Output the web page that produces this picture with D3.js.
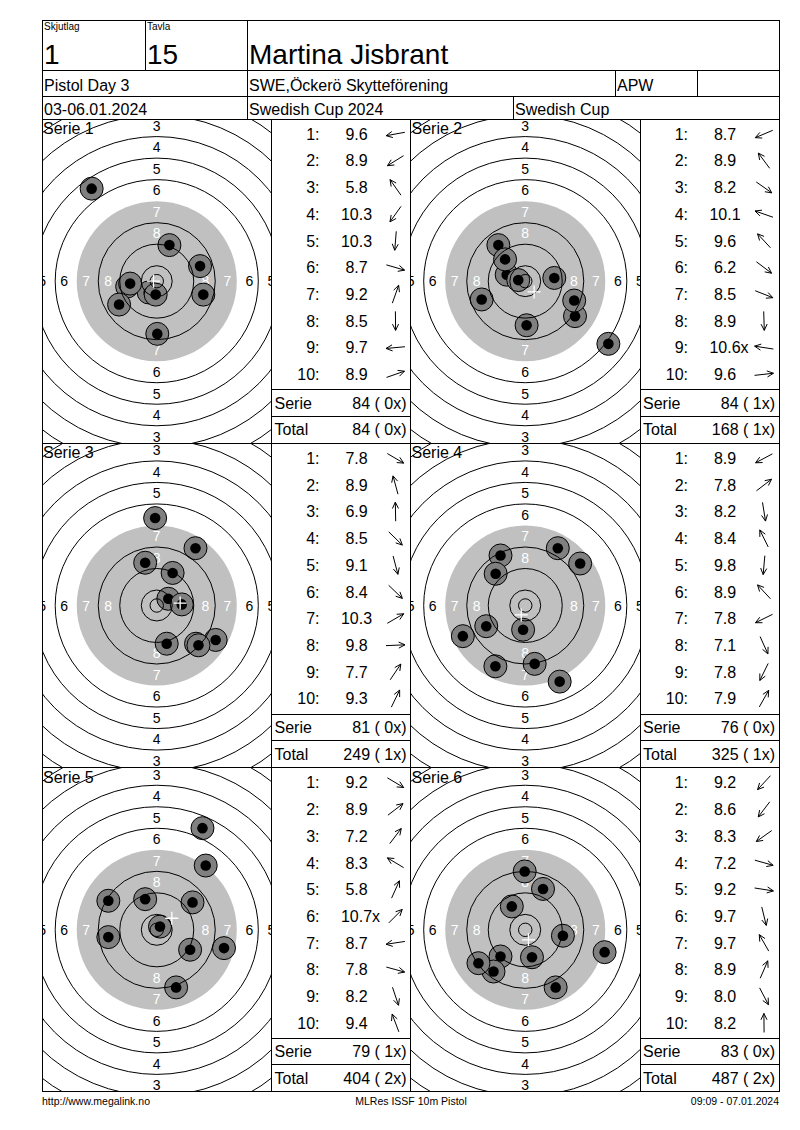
<!DOCTYPE html>
<html><head><meta charset="utf-8">
<script src="https://cdn.jsdelivr.net/npm/d3@7"></script>
<style>
body{margin:0;background:#fff}
svg text{font-family:Arial,"Liberation Sans",sans-serif;white-space:pre}
</style>
</head><body>
<svg id="c" width="800" height="1130"></svg>
<script>
// ---------------- DATA ----------------
const headerLabels = ["Skjutlag", "Tavla"];
const headerValues = ["1", "15"];
const shooterName = "Martina Jisbrant";
const row2Texts = ["Pistol Day 3", "SWE,Öckerö Skytteförening", "APW", ""];
const row3Texts = ["03-06.01.2024", "Swedish Cup 2024", "Swedish Cup"];
const footerTexts = ["http://www.megalink.no", "MLRes ISSF 10m Pistol", "09:09 - 07.01.2024"];
const seriesNames = ["Serie 1", "Serie 2", "Serie 3", "Serie 4", "Serie 5", "Serie 6"];

// decimal scores per shot
const s1Score = [9.6, 8.9, 5.8, 10.3, 10.3, 8.7, 9.2, 8.5, 9.7, 8.9];
const s2Score = [8.7, 8.9, 8.2, 10.1, 9.6, 6.2, 8.5, 8.9, 10.6, 9.6];
const s3Score = [7.8, 8.9, 6.9, 8.5, 9.1, 8.4, 10.3, 9.8, 7.7, 9.3];
const s4Score = [8.9, 7.8, 8.2, 8.4, 9.8, 8.9, 7.8, 7.1, 7.8, 7.9];
const s5Score = [9.2, 8.9, 7.2, 8.3, 5.8, 10.7, 8.7, 7.8, 8.2, 9.4];
const s6Score = [9.2, 8.6, 8.3, 7.2, 9.2, 9.7, 9.7, 8.9, 8.0, 8.2];
// inner-ten ("x") shots, 1-based shot numbers
const innerTenShots = [[], [9], [], [], [6], []];

// shot positions in mm from target centre (x right, y down)
const s1X = [-11.0, -14.0, -24.2, -3.0, -0.4, 17.3, 4.7, 0.2, -9.9, 16.1];
const s1Y = [2.0, 8.7, -34.4, 4.2, 5.0, 5.0, -13.4, 19.6, 0.9, -5.6];
const s2X = [-16.2, -10.0, 18.5, -6.9, -7.5, 30.9, 18.2, 0.5, -2.6, 10.8];
const s2Y = [6.8, -13.4, 13.0, -2.4, -8.1, 23.3, 7.2, 16.4, -0.4, -1.2];
const s3X = [21.9, -4.3, -0.6, 14.6, 3.7, 15.5, 4.3, 9.3, 14.4, 5.9];
const s3Y = [12.8, -15.9, -32.5, 14.2, 14.2, 14.8, -2.5, -0.4, -21.3, -12.1];
const s4X = [-14.5, 20.4, 3.5, -9.2, -0.8, -11.0, -23.2, 12.8, -11.1, 12.1];
const s4Y = [7.7, -15.6, 21.7, -18.6, 9.0, -11.8, 11.4, 28.3, 22.6, -21.3];
const s5X = [12.4, 13.3, 18.2, -18.0, 17.0, 1.2, -18.0, 25.0, 7.2, -4.3];
const s5Y = [7.4, -10.2, -23.9, -10.8, -37.8, -1.2, 2.7, 6.8, 21.4, -11.4];
const s6X = [-9.2, -11.8, -17.4, 29.5, 14.0, 2.5, -5.0, 6.6, 11.3, -0.2];
const s6Y = [9.9, 15.5, 12.4, 8.3, 2.2, 10.2, -8.7, -15.2, 21.4, -21.7];

// mean point of impact ("+" marker) in mm
const mpiX = [-1.2, 3.3, 8.7, -1.5, 5.6, 1.2];
const mpiY = [0.0, 4.0, -0.9, 3.5, -4.3, 3.7];

// ISSF 10m air pistol target: ring radii (mm) for rings 1..10
const ringValues = [1, 2, 3, 4, 5, 6, 7, 8, 9, 10];
const ringRadiiMm = [77.75, 69.75, 61.75, 53.75, 45.75, 37.75, 29.75, 21.75, 13.75, 5.75];
const innerTenMm = 2.5;
const blackRingValue = 7;
const labelRings = [1, 2, 3, 4, 5, 6, 7, 8];

const scores = [s1Score, s2Score, s3Score, s4Score, s5Score, s6Score];
const xs = [s1X, s2X, s3X, s4X, s5X, s6X];
const ys = [s1Y, s2Y, s3Y, s4Y, s5Y, s6Y];

// ---------------- LAYOUT ----------------
const svg = d3.select("#c");
const L = 42, R = 779, T = 20;
const H1 = 70, H2 = 96, H3 = 119;
const panelH = 324.33, targetW = 229.5, colW = 139;
const B = H3 + panelH * 3;
const PXMM = 2.69;

const lines = svg.append("g").attr("stroke", "#000").attr("stroke-width", 1).attr("shape-rendering", "crispEdges");
function hline(x1, x2, y) { lines.append("line").attr("x1", x1).attr("x2", x2).attr("y1", y).attr("y2", y); }
function vline(x, y1, y2) { lines.append("line").attr("x1", x).attr("x2", x).attr("y1", y1).attr("y2", y2); }

function txt(x, y, s, size, anchor, fill) {
  return svg.append("text").attr("x", x).attr("y", y).attr("font-size", size)
    .attr("text-anchor", anchor || "start").attr("fill", fill || "#000").text(s);
}

// ---------------- HEADER ----------------
txt(44, 30, headerLabels[0], 10);
txt(147, 30, headerLabels[1], 10);
txt(44, 63.5, headerValues[0], 28);
txt(147, 63.5, headerValues[1], 28);
txt(249, 63.5, shooterName, 28);
const row2X = [44, 249, 617, 699];
row2Texts.forEach((s, i) => txt(row2X[i], 91, s, 16));
const row3X = [44, 249, 515];
row3Texts.forEach((s, i) => txt(row3X[i], 115, s, 16));

// footer
txt(L, 1105, footerTexts[0], 10.5);
txt((L + R) / 2 + 0.5, 1105, footerTexts[1], 10.5, "middle");
txt(R, 1105, footerTexts[2], 10.5, "end");

// ---------------- PANELS ----------------
const defs = svg.append("defs");
let cumSum = 0, cumX = 0;

seriesNames.forEach((name, si) => {
  const colIdx = si % 2, rowIdx = Math.floor(si / 2);
  const x0 = L + colIdx * (targetW + colW);
  const top = H3 + rowIdx * panelH;
  const cx = x0 + targetW / 2, cy = top + panelH / 2;

  const sx = d3.scaleLinear().domain([-1, 1]).range([cx - PXMM, cx + PXMM]);
  const sy = d3.scaleLinear().domain([-1, 1]).range([cy - PXMM, cy + PXMM]);
  const sr = d3.scaleLinear().domain([0, 1]).range([0, PXMM]);

  const clipId = "clip" + si;
  defs.append("clipPath").attr("id", clipId).append("rect")
    .attr("x", x0).attr("y", top).attr("width", targetW).attr("height", panelH);
  const g = svg.append("g").attr("clip-path", `url(#${clipId})`);

  // black (grey) area
  g.append("circle").attr("cx", cx).attr("cy", cy)
    .attr("r", sr(ringRadiiMm[ringValues.indexOf(blackRingValue)])).attr("fill", "#c0c0c0");

  // ring labels (4 directions)
  const lab = [];
  labelRings.forEach(v => {
    const i = ringValues.indexOf(v);
    const rm = (ringRadiiMm[i] + ringRadiiMm[i + 1]) / 2;
    [[0, -1, 1], [0, 1, 1], [-1, 0, 1.02], [1, 0, 1.02]].forEach(d => lab.push({ v, x: d[0] * rm * d[2], y: d[1] * rm }));
  });
  g.selectAll("text.rl").data(lab).join("text").attr("class", "rl")
    .attr("x", d => sx(d.x)).attr("y", d => sy(d.y)).attr("dy", "0.36em")
    .attr("text-anchor", "middle").attr("font-size", 14)
    .attr("fill", d => d.v >= blackRingValue ? "#fff" : "#000").text(d => d.v);

  // shots
  const shots = scores[si].map((s, k) => ({ s, x: xs[si][k], y: ys[si][k] }));
  const sg = g.selectAll("g.shot").data(shots).join("g").attr("class", "shot");
  sg.append("circle").attr("cx", d => sx(d.x)).attr("cy", d => sy(d.y)).attr("r", 11.5)
    .attr("fill", "#808080").attr("stroke", "#000").attr("stroke-width", 1);
  sg.append("circle").attr("cx", d => sx(d.x)).attr("cy", d => sy(d.y)).attr("r", 5.3).attr("fill", "#000");

  // ring lines (no line at the edge of the black)
  const rl = ringRadiiMm.filter((r, i) => ringValues[i] !== blackRingValue).concat([innerTenMm]);
  g.selectAll("circle.ring").data(rl).join("circle").attr("class", "ring")
    .attr("cx", cx).attr("cy", cy).attr("r", d => sr(d))
    .attr("fill", "none").attr("stroke", "#000").attr("stroke-width", 1);

  // mean point of impact cross
  const mx = sx(mpiX[si]), my = sy(mpiY[si]);
  g.append("path").attr("d", `M${mx - 6.5},${my}H${mx + 6.5}M${mx},${my - 6.5}V${my + 6.5}`)
    .attr("stroke", "#fff").attr("stroke-width", 1.3);

  g.append("text").attr("x", x0 + 1).attr("y", top + 15).attr("font-size", 16).text(name);

  // ---- score column ----
  const X = x0 + targetW;
  const rowY = d3.scaleLinear().domain([0, 9]).range([top + 15, top + 255.3]);
  const col = svg.append("g");
  shots.forEach((d, k) => {
    const y = rowY(k);
    col.append("text").attr("x", X + 48).attr("y", y).attr("dy", "0.36em")
      .attr("text-anchor", "end").attr("font-size", 16).text(`${k + 1}:`);
    const vt = col.append("text").attr("x", X + 85).attr("y", y).attr("dy", "0.36em")
      .attr("text-anchor", "middle").attr("font-size", 16).text(d.s.toFixed(1));
    if (innerTenShots[si].includes(k + 1)) {
      const w = vt.node().getComputedTextLength();
      col.append("text").attr("x", X + 85 + w / 2).attr("y", y).attr("dy", "0.36em")
        .attr("font-size", 16).text("x");
    }
    // direction arrow
    const a = Math.atan2(d.y, d.x);
    const ax = X + 124, len = 9.5, hl = 7, ha = 0.45;
    const tx = ax + Math.cos(a) * len, ty = y + Math.sin(a) * len;
    const bx = ax - Math.cos(a) * len, by = y - Math.sin(a) * len;
    const h1x = tx - Math.cos(a - ha) * hl, h1y = ty - Math.sin(a - ha) * hl;
    const h2x = tx - Math.cos(a + ha) * hl, h2y = ty - Math.sin(a + ha) * hl;
    col.append("path").attr("d", `M${bx},${by}L${tx},${ty}M${h1x},${h1y}L${tx},${ty}L${h2x},${h2y}`)
      .attr("fill", "none").attr("stroke", "#000").attr("stroke-width", 1);
  });
  const serSum = d3.sum(scores[si], v => Math.floor(v));
  const serX = innerTenShots[si].length;
  cumSum += serSum; cumX += serX;
  const fmt = (s, c) => `${s} (${String(c).padStart(2, " ")}x)`;
  col.append("text").attr("x", X + 3).attr("y", top + 284).attr("dy", "0.36em").attr("font-size", 16).text("Serie");
  col.append("text").attr("x", X + 135).attr("y", top + 284).attr("dy", "0.36em").attr("font-size", 16)
    .attr("text-anchor", "end").text(fmt(serSum, serX));
  col.append("text").attr("x", X + 3).attr("y", top + 310.7).attr("dy", "0.36em").attr("font-size", 16).text("Total");
  col.append("text").attr("x", X + 135).attr("y", top + 310.7).attr("dy", "0.36em").attr("font-size", 16)
    .attr("text-anchor", "end").text(fmt(cumSum, cumX));

  hline(X, X + colW, top + 270.7);
  hline(X, X + colW, top + 297.3);
});

// ---------------- GRID LINES ----------------
hline(L, R, T); hline(L, R, H1); hline(L, R, H2); hline(L, R, H3);
vline(L, T, B); vline(R, T, B);
vline(145, T, H1); vline(247, T, H1);
vline(247, H1, H2); vline(615, H1, H2); vline(697, H1, H2);
vline(247, H2, H3); vline(513, H2, H3);
[1, 2, 3].forEach(r => hline(L, R, H3 + r * panelH));
[L + targetW, L + targetW + colW, L + 2 * targetW + colW].forEach(x => vline(x, H3, B));
</script>
</body></html>
